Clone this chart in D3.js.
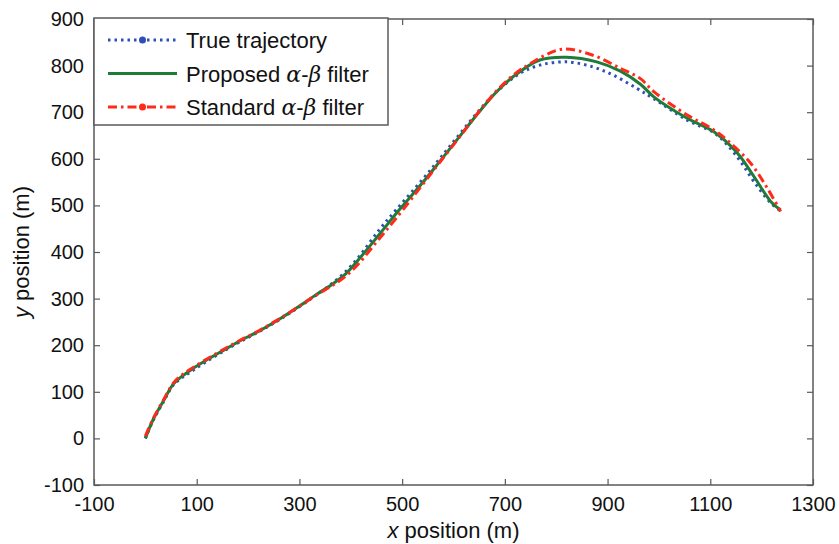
<!DOCTYPE html>
<html>
<head>
<meta charset="utf-8">
<script src="https://cdn.jsdelivr.net/npm/d3@7"></script>
<style>
  body { margin: 0; background: #fff; }
  text { font-family: "Liberation Sans", Arial, sans-serif; fill: #111; }
</style>
</head>
<body>
<div id="chart"></div>
<script>
// Series data (metres)
const trueX = [0, 15, 35, 54, 71, 90, 116, 149, 182, 221, 260, 299, 332, 364, 390, 416, 455, 488, 540, 573, 612, 651, 684, 729, 768, 820, 872, 912, 957, 990, 1055, 1107, 1133, 1159, 1185, 1218, 1237];
const trueY = [0, 38, 78, 114, 130, 144, 163, 185, 206, 229, 254, 282, 307, 333, 358, 390, 447, 490, 556, 600, 653, 705, 744, 783, 801, 808, 797, 779, 751, 729, 683, 656, 630, 594, 551, 505, 488];

const propX = [0, 15, 35, 54, 71, 90, 116, 149, 182, 221, 260, 299, 332, 364, 390, 416, 455, 494, 540, 573, 612, 651, 684, 716, 768, 820, 879, 925, 964, 990, 1055, 1107, 1153, 1185, 1218, 1237];
const propY = [0, 40, 80, 116, 133, 148, 166, 187, 208, 230, 255, 283, 308, 331, 353, 385, 437, 490, 549, 594, 648, 702, 744, 776, 812, 818, 808, 788, 760, 733, 687, 658, 612, 562, 508, 490];

const stdX = [0, 15, 35, 54, 71, 90, 116, 149, 182, 221, 260, 299, 332, 364, 390, 416, 455, 488, 540, 573, 612, 651, 684, 716, 749, 811, 872, 925, 964, 990, 1055, 1107, 1140, 1179, 1211, 1237];
const stdY = [5, 42, 82, 118, 136, 150, 168, 189, 209, 231, 256, 283, 307, 328, 348, 376, 428, 472, 545, 592, 647, 703, 746, 779, 804, 835, 822, 794, 772, 744, 694, 662, 633, 590, 537, 487];

const xTicks = [-100, 100, 300, 500, 700, 900, 1100, 1300];
const yTicks = [-100, 0, 100, 200, 300, 400, 500, 600, 700, 800, 900];

const series = [
  {name: "True trajectory", xs: trueX, ys: trueY, color: "#2f4fb5", dash: "2.5,4", marker: true},
  {name: "Proposed", xs: propX, ys: propY, color: "#1c7c38", dash: null, marker: false},
  {name: "Standard", xs: stdX, ys: stdY, color: "#ff2a1a", dash: "9,4,2.5,4", marker: true}
];

const W = 839, H = 544;
const margin = {top: 19, right: 26, bottom: 59, left: 94};
const width = W - margin.left - margin.right,
      height = H - margin.top - margin.bottom;

const svg = d3.select("#chart").append("svg")
    .attr("width", W)
    .attr("height", H);

const g = svg.append("g")
    .attr("transform", `translate(${margin.left},${margin.top})`);

const x = d3.scaleLinear().domain([-100, 1300]).range([0, width]);
const y = d3.scaleLinear().domain([-100, 900]).range([height, 0]);

// axes with inward ticks on all four sides (box style)
const axisColor = "#5a5a5a";
const plain = d => String(d);   // keep the ASCII hyphen like the original
const styleAxis = sel => {
  sel.select(".domain").remove();
  sel.selectAll(".tick line").attr("stroke", axisColor).attr("stroke-width", 1.2);
  sel.selectAll(".tick text").style("font-size", "20px").attr("fill", "#111");
};

g.append("g")
    .attr("transform", `translate(0,${height})`)
    .call(d3.axisBottom(x).tickValues(xTicks).tickSizeInner(-6).tickSizeOuter(0).tickPadding(12).tickFormat(plain))
    .call(styleAxis);
g.append("g")
    .call(d3.axisTop(x).tickValues(xTicks).tickSizeInner(-6).tickSizeOuter(0).tickFormat(""))
    .call(styleAxis);
g.append("g")
    .call(d3.axisLeft(y).tickValues(yTicks).tickSizeInner(-6).tickSizeOuter(0).tickPadding(10).tickFormat(plain))
    .call(styleAxis);
g.append("g")
    .attr("transform", `translate(${width},0)`)
    .call(d3.axisRight(y).tickValues(yTicks).tickSizeInner(-6).tickSizeOuter(0).tickFormat(""))
    .call(styleAxis);

g.append("rect")
    .attr("width", width)
    .attr("height", height)
    .attr("fill", "none")
    .attr("stroke", axisColor)
    .attr("stroke-width", 1.5);

// the three trajectories
const line = d3.line().curve(d3.curveCatmullRom.alpha(0.5));
series.forEach(s => {
  const pts = s.xs.map((v, i) => [x(v), y(s.ys[i])]);
  g.append("path")
      .attr("d", line(pts))
      .attr("fill", "none")
      .attr("stroke", s.color)
      .attr("stroke-width", 3)
      .attr("stroke-dasharray", s.dash);
});

// axis titles
svg.append("text")
    .attr("x", margin.left + width / 2)
    .attr("y", 538)
    .attr("text-anchor", "middle")
    .style("font-size", "22px")
    .html('<tspan font-style="italic">x</tspan> position (m)');

svg.append("text")
    .attr("transform", `translate(29,${margin.top + height / 2}) rotate(-90)`)
    .attr("text-anchor", "middle")
    .style("font-size", "22px")
    .html('<tspan font-style="italic">y</tspan> position (m)');

// legend
const legend = svg.append("g").attr("transform", "translate(94,18)");
legend.append("rect")
    .attr("width", 294)
    .attr("height", 107)
    .attr("fill", "#fff")
    .attr("stroke", axisColor)
    .attr("stroke-width", 1.5);

const legendLabels = [
  'True trajectory',
  'Proposed <tspan font-family="DejaVu Serif" font-style="italic">α</tspan>-<tspan font-family="DejaVu Serif" font-style="italic">β</tspan> filter',
  'Standard <tspan font-family="DejaVu Serif" font-style="italic">α</tspan>-<tspan font-family="DejaVu Serif" font-style="italic">β</tspan> filter'
];

series.forEach((s, i) => {
  const row = legend.append("g").attr("transform", `translate(0,${22 + i * 33.5})`);
  row.append("line")
      .attr("x1", 14).attr("x2", 83)
      .attr("stroke", s.color)
      .attr("stroke-width", 3)
      .attr("stroke-dasharray", s.dash);
  if (s.marker) {
    row.append("circle")
        .attr("cx", 48.5).attr("r", 3.5)
        .attr("fill", s.color);
  }
  row.append("text")
      .attr("x", 92)
      .attr("y", 8)
      .style("font-size", "22px")
      .html(legendLabels[i]);
});
</script>
</body>
</html>
